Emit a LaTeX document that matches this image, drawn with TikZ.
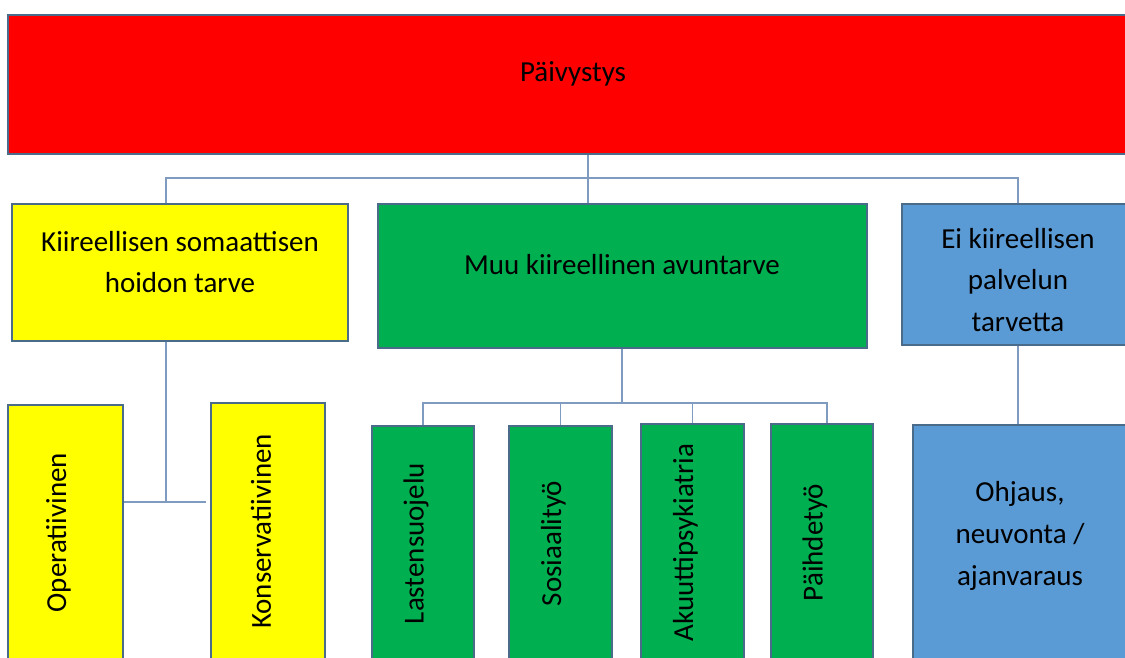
\documentclass[tikz,border=0pt]{standalone}
\usepackage{fontspec}
\setmainfont{Carlito}
\usepackage{tikz}

\definecolor{frame}{HTML}{4A6B8A}
\definecolor{wire}{HTML}{7F9CC0}
\definecolor{redbox}{HTML}{FF0000}
\definecolor{yelbox}{HTML}{FFFF00}
\definecolor{grnbox}{HTML}{00B050}
\definecolor{blubox}{HTML}{5B9BD5}

\newcommand{\vtext}[1]{\rotatebox{90}{#1}\kern8pt}

\tikzset{
  box/.style={draw=frame, line width=1.3pt, inner sep=0pt},
  conn/.style={draw=wire, line width=0.7pt},
  txt/.style={align=center, text=black, font=\fontsize{16.5}{23.8}\selectfont},
}

\begin{document}
\begin{tikzpicture}[x=0.02cm, y=-0.02cm]
    \clip (0,0) rectangle (1125,657);
    \fill[white] (0,0) rectangle (1125,657);

    % upper row
    \node[box, fill=redbox, minimum width=22.6cm, minimum height=2.78cm] (top) at (573,84.5){};
    \node[box, fill=yelbox, minimum width=6.72cm, minimum height=2.74cm] (kiir) at (180,272.5){};
    \node[box, fill=grnbox, minimum width=9.78cm, minimum height=2.88cm] (muu) at (622.5,276){};
    \node[box, fill=blubox, minimum width=4.64cm, minimum height=2.82cm] (ei) at (1018,274.5){};
    \node[txt] (topT) at (573,74){Päivystys};
    \node[txt] (kiirT) at (180,262){Kiireellisen somaattisen\\hoidon tarve};
    \node[txt] (muuT) at (622,265){Muu kiireellinen avuntarve};
    \node[txt] (eiT) at (1018,280){Ei kiireellisen\\palvelun\\tarvetta};

    % lower row
    \node[box, txt, fill=yelbox, minimum width=2.30cm, minimum height=5.10cm] (oper) at (65.5,532.5){\vtext{Operatiivinen}};
    \node[box, txt, fill=yelbox, minimum width=2.28cm, minimum height=5.14cm] (kons) at (268,531.5){\vtext{Konservatiivinen}};
    \node[box, txt, fill=grnbox, minimum width=2.04cm, minimum height=4.70cm] (last) at (423,543.5){\vtext{Lastensuojelu}};
    \node[box, txt, fill=grnbox, minimum width=2.06cm, minimum height=4.70cm] (sosi) at (560.5,543.5){\vtext{Sosiaalityö}};
    \node[box, txt, fill=grnbox, minimum width=2.06cm, minimum height=4.74cm] (akut) at (692.5,542.5){\vtext{Akuuttipsykiatria}};
    \node[box, txt, fill=grnbox, minimum width=2.04cm, minimum height=4.74cm] (paih) at (822,542.5){\vtext{Päihdetyö}};
    \node[box, fill=blubox, minimum width=4.28cm, minimum height=4.70cm] (ohj) at (1020,542.5){};
    \node[txt] (ohjT) at (1020,536){Ohjaus,\\neuvonta /\\ajanvaraus};

    % connectors
    \coordinate (jtop) at (588,178);
    \coordinate (jk) at (166,502);
    \coordinate (jkr) at (206,502);
    \coordinate (jm) at (622,403);
    \coordinate (jp) at (827,403);
    \draw[conn] (top.south -| jtop) -- (muu.north -| jtop);
    \draw[conn] (kiir.north -| jk) |- (jtop) -| (ei.north);
    \draw[conn] (kiir.south -| jk) -- (jk);
    \draw[conn] (oper.east |- jk) -- (jkr);
    \draw[conn] (muu.south -| jm) -- (jm);
    \draw[conn] (last.north) |- (jp) -- (paih.north -| jp);
    \draw[conn] (sosi.north) -- (sosi.north |- jm);
    \draw[conn] (akut.north) -- (akut.north |- jm);
    \draw[conn] (ei.south) -- (ei.south |- ohj.north);
  \end{tikzpicture}
\end{document}
